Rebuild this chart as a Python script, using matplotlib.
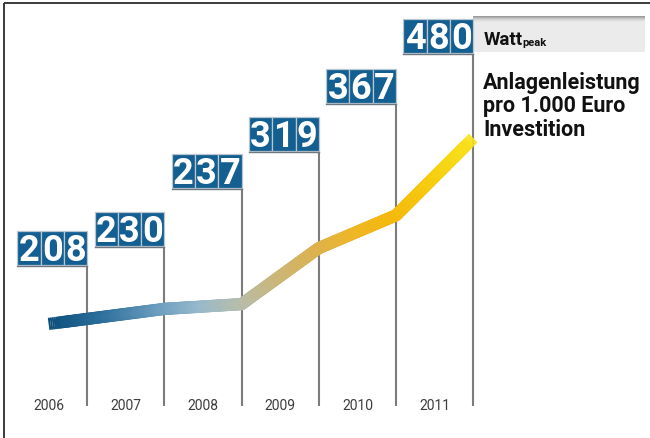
import numpy as np
import matplotlib
matplotlib.use("Agg")
import matplotlib.pyplot as plt
from matplotlib.collections import LineCollection
from matplotlib.patches import Rectangle
from matplotlib.colors import LinearSegmentedColormap

# ---- data ----
years = ["2006", "2007", "2008", "2009", "2010", "2011"]
values = [208, 230, 237, 319, 367, 480]
unit_main = "Watt"
unit_sub = "peak"
caption = "Anlagenleistung\npro 1.000 Euro\nInvestition"

# ---- layout (pixels of the 650x439 figure) ----
W, H, DPI = 650, 439, 100
box_top_px = [232, 213, 155, 118, 70, 20]
BOX_H = 34
TILE_W = 23.3
LINE_BOTTOM_PX = 407
YEAR_Y_PX = 406

fig = plt.figure(figsize=(W / DPI, H / DPI), dpi=DPI)
fig.patch.set_facecolor("white")
ax = fig.add_axes([0, 0, 1, 1])
ax.set_xlim(-0.1295, 8.29)
ax.set_ylim(41.0, 683.7)
ax.axis("off")

FONT = ["Roboto", "DejaVu Sans"]
DIGIT_FONT = ["Liberation Sans Narrow", "Roboto", "DejaVu Sans"]


def py(px):
    y0, y1 = ax.get_ylim()
    return y1 - px * (y1 - y0) / H


def pxw(px):
    x0, x1 = ax.get_xlim()
    return px * (x1 - x0) / W


def pxh(px):
    y0, y1 = ax.get_ylim()
    return px * (y1 - y0) / H


n = len(values)

# frame
ax.plot([4 / W, 1], [1 - 3.5 / H, 1 - 3.5 / H], transform=ax.transAxes,
        color="#3a3a3a", lw=1.4, solid_capstyle="butt", zorder=1)
ax.plot([4 / W, 4 / W], [0, 1 - 3.5 / H], transform=ax.transAxes,
        color="#3a3a3a", lw=1.4, solid_capstyle="butt", zorder=1)

# unit band
band_x0 = n
band_x1 = ax.get_xlim()[0] + pxw(645)
ax.add_patch(Rectangle((band_x0, py(53)), band_x1 - band_x0, pxh(53 - 17),
                       facecolor="#ebebeb", edgecolor="none", zorder=1))
shade = ["#9c9c9c", "#b0b0b0", "#c4c4c4", "#d4d4d4", "#dedede", "#e6e6e6"]
for k, c in enumerate(shade):
    ax.add_patch(Rectangle((band_x0, py(17 + k + 1)), band_x1 - band_x0, pxh(1),
                           facecolor=c, edgecolor="none", zorder=1))

# vertical lines and number tiles
for i, (v, top) in enumerate(zip(values, box_top_px)):
    xr = i + 1
    ax.plot([xr, xr], [py(top + BOX_H), py(LINE_BOTTOM_PX)], color="#7c7c7c",
            lw=1.5, solid_capstyle="butt", zorder=2)
    digits = str(v)
    tw = pxw(TILE_W)
    for k, d in enumerate(digits):
        x0 = xr - (len(digits) - k) * tw
        ax.add_patch(Rectangle((x0, py(top + BOX_H)), tw, pxh(BOX_H),
                               facecolor="#135f92", edgecolor="#b9c6d0",
                               lw=0.9, zorder=4))
        ax.text(x0 + tw / 2, py(top + BOX_H - 5), d, color="white",
                fontsize=26, fontweight="bold", family=DIGIT_FONT,
                ha="center", va="baseline", zorder=5)
    ax.plot([xr - len(digits) * tw, xr], [py(top + BOX_H + 1)] * 2,
            color="#6d7880", lw=1.0, zorder=4)

# year labels
for i, y in enumerate(years):
    ax.text(i + 0.5, py(YEAR_Y_PX), y, color="#3d3d3d", fontsize=10,
            family=FONT, ha="center", va="center", zorder=3)

# gradient line
line_x = np.arange(1, n + 1, dtype=float)
line_x[0] = 0.5
line_y = np.array(values, dtype=float)

stops = [(0.5, "#0b4e7b"), (1.2, "#2a6d9a"), (2.0, "#6e9fc0"), (2.5, "#97b9cc"),
         (3.0, "#b6bdad"), (3.5, "#cbb679"), (4.0, "#ddb24f"), (4.5, "#eeb628"),
         (5.0, "#f4b90c"), (5.5, "#f6cd10"), (6.0, "#f8e31c")]
xmin, xmax = line_x[0], line_x[-1]
cmap = LinearSegmentedColormap.from_list(
    "g", [((x - xmin) / (xmax - xmin), c) for x, c in stops])

SUB = 60
pts = []
for j in range(n - 1):
    t = np.linspace(0, 1, SUB, endpoint=False)
    pts.append(np.column_stack([line_x[j] + t * (line_x[j + 1] - line_x[j]),
                                line_y[j] + t * (line_y[j + 1] - line_y[j])]))
pts.append(np.array([[line_x[-1], line_y[-1]]]))
pts = np.vstack(pts)
segs = np.stack([pts[:-1], pts[1:]], axis=1)
mid = (segs[:, 0, 0] + segs[:, 1, 0]) / 2
cols = cmap((mid - xmin) / (xmax - xmin))
LW = 8.8
K = 6
ends = np.r_[np.arange(K), np.arange(len(segs) - K, len(segs))]
inner = np.arange(K, len(segs) - K)
ax.add_collection(LineCollection(segs[inner], colors=cols[inner], linewidths=LW,
                                 capstyle="round", zorder=3))
ax.add_collection(LineCollection(segs[ends], colors=cols[ends], linewidths=LW,
                                 capstyle="butt", zorder=3))

# unit and caption text
tx = n + pxw(10)
t1 = ax.text(tx, py(45), unit_main, color="#111111", fontsize=13.5,
             fontweight="bold", family=FONT, ha="left", va="baseline", zorder=5)
ax.annotate(unit_sub, xy=(1, 0), xycoords=t1, xytext=(0, 0.5),
            textcoords="offset points", color="#111111", fontsize=8,
            fontweight="bold", family=FONT, ha="left", va="bottom", zorder=5)
ax.text(tx, py(72), caption, color="#111111", fontsize=15.5, fontweight="bold",
        family=FONT, ha="left", va="top", linespacing=1.08, zorder=5)

fig.savefig("out.png", dpi=DPI)
